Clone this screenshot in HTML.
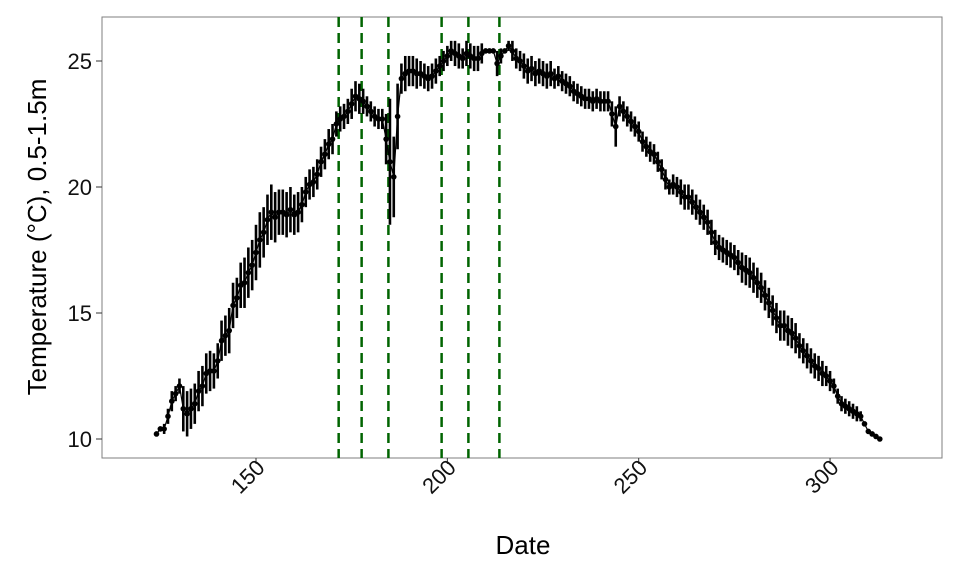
<!DOCTYPE html>
<html><head><meta charset="utf-8"><style>
body{margin:0;background:#fff;}
svg{display:block;font-family:"Liberation Sans",sans-serif;}
</style></head><body>
<svg id="chart" width="960" height="576">
<rect x="102" y="17" width="840" height="441" fill="#fff" stroke="#7f7f7f" stroke-width="1"/>
<g id="vlines"></g>
<g id="marks"></g>
<g id="axes"></g>
<text x="523" y="554" text-anchor="middle" font-size="26" fill="#000">Date</text>
<text transform="translate(46,237) rotate(-90)" text-anchor="middle" font-size="26" fill="#000">Temperature (°C), 0.5-1.5m</text>
</svg>
<script>
const startDay = 124;
const temps = [10.2,10.4,10.4,10.9,11.5,11.8,12.1,11.2,11.0,11.2,11.4,11.9,12.1,12.6,12.7,12.7,13.1,13.9,14.1,14.3,15.3,15.6,16.1,16.2,16.6,16.9,17.4,17.9,18.2,18.7,19.0,18.8,19.0,19.0,18.9,19.1,18.9,19.0,19.3,19.8,20.1,20.2,20.5,21.0,21.3,21.7,21.9,22.5,22.7,22.8,23.0,23.3,23.6,23.5,23.4,23.2,23.0,22.8,22.7,22.7,21.9,21.0,20.4,22.8,24.3,24.5,24.6,24.6,24.5,24.5,24.4,24.3,24.4,24.6,24.8,25.0,25.2,25.4,25.3,25.2,25.1,25.3,25.2,25.1,25.1,25.3,25.4,25.4,25.4,24.9,25.2,25.4,25.6,25.4,25.1,25.0,24.8,24.6,24.7,24.5,24.6,24.5,24.4,24.5,24.3,24.4,24.2,24.1,24.0,23.8,23.7,23.6,23.5,23.5,23.4,23.5,23.4,23.4,23.4,22.9,22.4,23.2,23.0,22.8,22.6,22.4,22.2,21.8,21.6,21.4,21.3,21.0,20.7,20.3,20.0,20.1,20.0,19.8,19.6,19.6,19.4,19.2,19.0,18.8,18.6,18.2,17.8,17.6,17.5,17.4,17.3,17.2,17.0,16.8,16.7,16.6,16.4,16.2,16.0,15.7,15.4,15.1,14.8,14.5,14.5,14.3,14.2,14.0,13.7,13.5,13.3,13.1,12.9,12.8,12.6,12.5,12.3,12.1,11.7,11.4,11.3,11.2,11.1,11.0,10.9,10.6,10.3,10.2,10.1,10.0];
const errs = [0.1,0.1,0.2,0.3,0.4,0.3,0.3,0.9,0.9,0.8,0.8,0.8,0.8,0.8,0.8,0.7,0.7,0.8,0.8,0.9,0.9,0.8,0.9,1.0,1.0,1.0,1.1,1.1,1.0,1.0,1.1,1.0,0.9,0.9,0.9,0.9,0.8,0.8,0.7,0.6,0.6,0.6,0.6,0.6,0.6,0.6,0.6,0.5,0.5,0.5,0.5,0.6,0.6,0.6,0.5,0.4,0.4,0.4,0.4,0.4,1.0,2.5,1.6,1.3,0.6,0.7,0.6,0.6,0.6,0.5,0.5,0.5,0.5,0.5,0.4,0.4,0.4,0.4,0.5,0.5,0.4,0.5,0.5,0.5,0.5,0.4,0.1,0.1,0.1,0.5,0.3,0.1,0.2,0.4,0.4,0.4,0.5,0.5,0.5,0.5,0.5,0.5,0.5,0.5,0.4,0.4,0.4,0.4,0.4,0.4,0.4,0.4,0.4,0.4,0.4,0.4,0.4,0.4,0.4,0.5,0.8,0.4,0.4,0.4,0.4,0.4,0.4,0.4,0.4,0.4,0.4,0.4,0.4,0.4,0.3,0.4,0.4,0.5,0.5,0.5,0.5,0.5,0.5,0.5,0.5,0.5,0.5,0.5,0.5,0.5,0.5,0.5,0.5,0.6,0.6,0.6,0.6,0.6,0.6,0.6,0.6,0.6,0.6,0.6,0.6,0.6,0.6,0.6,0.5,0.5,0.5,0.5,0.5,0.5,0.5,0.4,0.4,0.3,0.3,0.3,0.3,0.3,0.3,0.3,0.2,0.1,0.1,0.1];
const eventDays = [171.6,177.6,184.6,198.5,205.5,213.6];
const xTicks = [150,200,250,300];
const yTicks = [10,15,20,25];

const NS = 'http://www.w3.org/2000/svg';
const X = d => 256 + (d - 150) * 3.827;
const Y = t => 61 + (25 - t) * 25.2;
function mk(tag, attrs, parent){const e=document.createElementNS(NS,tag);for(const k in attrs)e.setAttribute(k,attrs[k]);parent.appendChild(e);return e;}
const vl=document.getElementById('vlines'), mg=document.getElementById('marks'), ax=document.getElementById('axes');

eventDays.forEach(d=>{
  const l=mk('line',{x1:X(d),x2:X(d),y1:17,y2:458,stroke:'#006400','stroke-width':2.5,'stroke-dasharray':'10,6'},vl);
  
  
});

let pts=temps.map((t,i)=>X(startDay+i).toFixed(1)+','+Y(t).toFixed(1)).join(' ');
const pl=mk('polyline',{points:pts,fill:'none',stroke:'#000','stroke-width':1.2},mg);


temps.forEach((t,i)=>{
  const x=X(startDay+i), e=errs[i];
  const b=mk('line',{x1:x,x2:x,y1:Y(t+e),y2:Y(t-e),stroke:'#000','stroke-width':2.6},mg);
  
  
  const c=mk('circle',{cx:x,cy:Y(t),r:2.8,fill:'#000'},mg);
  
  
});

xTicks.forEach(v=>{
  const x=X(v);
  const t=mk('line',{x1:x,x2:x,y1:458,y2:464,stroke:'#333','stroke-width':1},ax);
  
  
  const lb=mk('text',{x:x+10,y:469,'text-anchor':'end','font-size':22,fill:'#111',transform:`rotate(-45 ${x+10} 469)`},ax);
  lb.textContent=v;
  
  
});
yTicks.forEach(v=>{
  const y=Y(v);
  const t=mk('line',{x1:96,x2:102,y1:y,y2:y,stroke:'#333','stroke-width':1},ax);
  
  
  const lb=mk('text',{x:92,y:y+8,'text-anchor':'end','font-size':22,fill:'#111'},ax);
  lb.textContent=v;
  
  
});
</script>
</body></html>
